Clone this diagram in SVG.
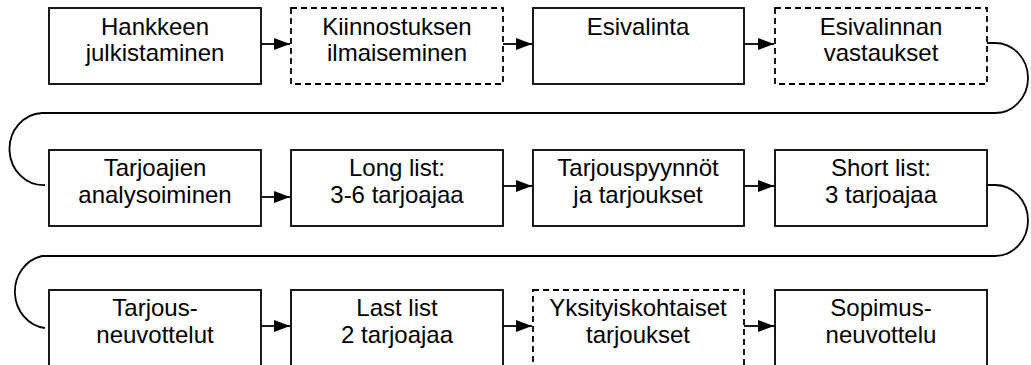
<svg xmlns="http://www.w3.org/2000/svg" width="1031" height="365" viewBox="0 0 1031 365">
<style>
.box{fill:#fff;stroke:#000;stroke-width:1.8}
.dash{stroke-dasharray:6 4}
.t{font-family:"Liberation Sans",Arial,sans-serif;font-size:24px;font-weight:normal;fill:#000;text-anchor:middle}
.c{fill:none;stroke:#000;stroke-width:1.8}
</style>
<defs>
<marker id="ah" viewBox="0 0 16 12" refX="16" refY="6" markerWidth="16" markerHeight="12" markerUnits="userSpaceOnUse" orient="auto">
<path d="M0 0 L16 6 L0 12 Z" fill="#000"/>
</marker>
</defs>
<rect width="1031" height="365" fill="#fff"/>
<g id="connectors">
<path class="c" d="M261 44 H290" marker-end="url(#ah)"/>
<path class="c" d="M503 44 H532" marker-end="url(#ah)"/>
<path class="c" d="M744 44 H774" marker-end="url(#ah)"/>
<path class="c" d="M987 43 H995 A33 35 0 0 1 995 113 H42 A34 36 0 0 0 45 185"/>
<path class="c" d="M261 197 H290" marker-end="url(#ah)"/>
<path class="c" d="M503 186 H532" marker-end="url(#ah)"/>
<path class="c" d="M744 186 H774" marker-end="url(#ah)"/>
<path class="c" d="M987 185 H995 A33 35.5 0 0 1 995 256 H42 A34 36.5 0 0 0 45 328"/>
<path class="c" d="M261 326 H290" marker-end="url(#ah)"/>
<path class="c" d="M503 326 H532" marker-end="url(#ah)"/>
<path class="c" d="M744 326 H774" marker-end="url(#ah)"/>
</g>
<g id="n1"><rect class="box" x="49" y="8" width="212" height="76"/><text class="t" x="155" y="35">Hankkeen</text><text class="t" x="155" y="61">julkistaminen</text></g>
<g id="n2"><rect class="box dash" x="291" y="8" width="212" height="76"/><text class="t" x="397" y="35">Kiinnostuksen</text><text class="t" x="397" y="61">ilmaiseminen</text></g>
<g id="n3"><rect class="box" x="533" y="8" width="211" height="76"/><text class="t" x="638" y="35">Esivalinta</text></g>
<g id="n4"><rect class="box dash" x="775" y="8" width="212" height="76"/><text class="t" x="881" y="35">Esivalinnan</text><text class="t" x="881" y="61">vastaukset</text></g>
<g id="n5"><rect class="box" x="49" y="150" width="212" height="76"/><text class="t" x="155" y="176">Tarjoajien</text><text class="t" x="155" y="203">analysoiminen</text></g>
<g id="n6"><rect class="box" x="291" y="150" width="212" height="76"/><text class="t" x="397" y="176">Long list:</text><text class="t" x="397" y="203">3-6 tarjoajaa</text></g>
<g id="n7"><rect class="box" x="533" y="150" width="211" height="76"/><text class="t" x="638" y="176">Tarjouspyynnöt</text><text class="t" x="638" y="203">ja tarjoukset</text></g>
<g id="n8"><rect class="box" x="775" y="150" width="212" height="76"/><text class="t" x="881" y="176">Short list:</text><text class="t" x="881" y="203">3 tarjoajaa</text></g>
<g id="n9"><rect class="box" x="49" y="290" width="212" height="80"/><text class="t" x="155" y="316">Tarjous-</text><text class="t" x="155" y="343">neuvottelut</text></g>
<g id="n10"><rect class="box" x="291" y="290" width="212" height="80"/><text class="t" x="397" y="316">Last list</text><text class="t" x="397" y="343">2 tarjoajaa</text></g>
<g id="n11"><rect class="box dash" x="533" y="290" width="211" height="80"/><text class="t" x="638" y="316">Yksityiskohtaiset</text><text class="t" x="638" y="343">tarjoukset</text></g>
<g id="n12"><rect class="box" x="775" y="290" width="212" height="80"/><text class="t" x="881" y="316">Sopimus-</text><text class="t" x="881" y="343">neuvottelu</text></g>
</svg>
